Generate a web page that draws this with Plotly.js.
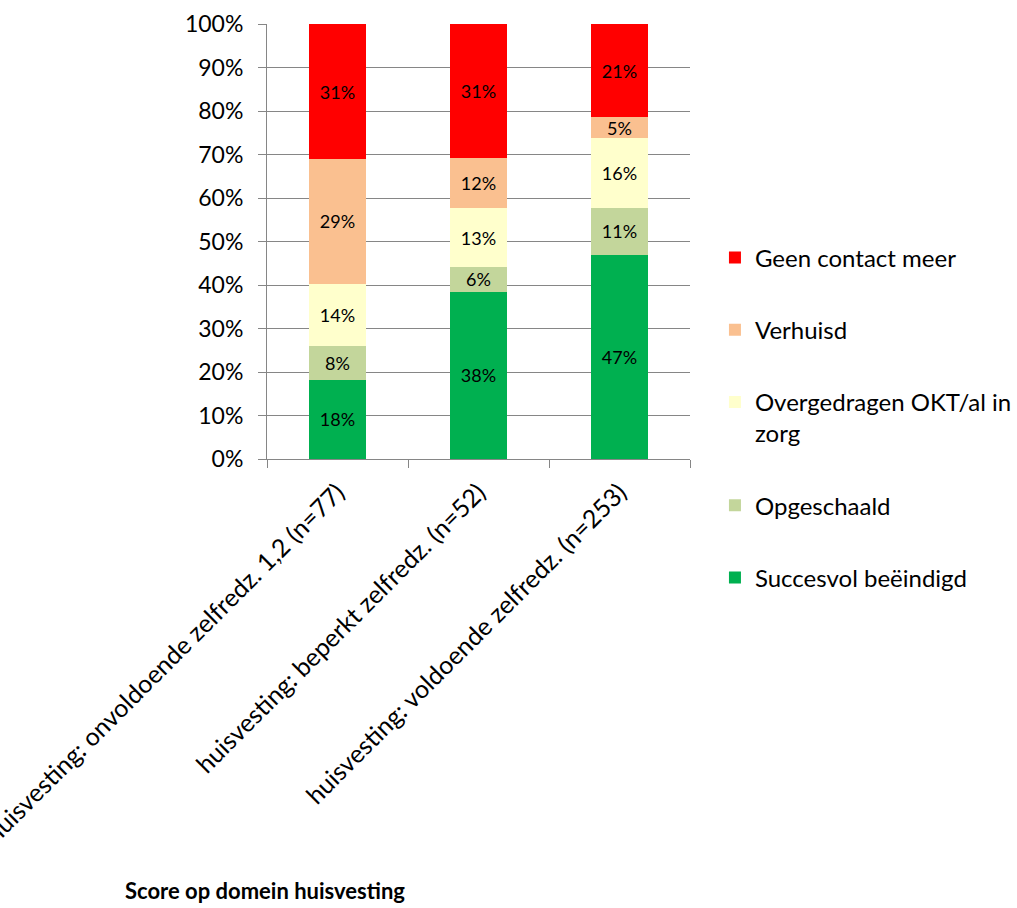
<!DOCTYPE html>
<html>
<head>
<meta charset="utf-8">
<script src="https://cdn.plot.ly/plotly-3.0.1.min.js"></script>
<style>
html,body{margin:0;padding:0;background:#fff;}
#chart{width:1017px;height:908px;}
</style>
</head>
<body>
<div id="chart"></div>
<script>
const categories = [
  'huisvesting: onvoldoende zelfredz. 1,2 (n=77)',
  'huisvesting: beperkt zelfredz. (n=52)',
  'huisvesting: voldoende zelfredz. (n=253)'
];
const succesvol    = [18.2, 38.4, 46.8];
const opgeschaald  = [7.8, 5.8, 11.0];
const overgedragen = [14.3, 13.4, 15.9];
const verhuisd     = [28.6, 11.5, 4.9];
const geenContact  = [31.1, 30.9, 21.4];
const seriesNames = ['Succesvol beëindigd','Opgeschaald','Overgedragen OKT/al in<br>zorg','Verhuisd','Geen contact meer'];
const seriesColors = ['#00B050','#C3D69B','#FFFFCC','#FAC090','#FF0000'];
const seriesValues = [succesvol, opgeschaald, overgedragen, verhuisd, geenContact];

const FONT = 'Lato, "Open Sans", sans-serif';

const traces = seriesValues.map((vals, i) => ({
  type: 'bar',
  name: seriesNames[i],
  x: categories,
  y: vals,
  legendgroup: 'g' + i,
  legendrank: 10 - i,
  marker: {color: seriesColors[i], line: {width: 0}},
  texttemplate: '%{y:.0f}%',
  textposition: 'inside',
  insidetextanchor: 'middle',
  textangle: 0,
  textfont: {family: FONT, size: 18, color: '#000'},
  hoverinfo: 'skip'
}));

const layout = {
  width: 1017,
  height: 908,
  paper_bgcolor: '#fff',
  plot_bgcolor: '#fff',
  barmode: 'stack',
  bargap: 0.6,
  margin: {l: 267, r: 327, t: 24, b: 449, autoexpand: false},
  font: {family: FONT, color: '#000'},
  uniformtext: {mode: 'show', minsize: 18},
  showlegend: true,
  legend: {
    x: 1.059, xanchor: 'left',
    y: 0.514, yanchor: 'top',
    traceorder: 'grouped',
    tracegroupgap: 38,
    font: {family: FONT, size: 24, color: '#000'},
    itemwidth: 30,
    valign: 'top'
  },
  title: {
    text: '<b>Score op domein huisvesting</b>',
    font: {family: FONT, size: 22, color: '#000'},
    x: 265/1017, xanchor: 'center', xref: 'container',
    yref: 'container', y: 0.018, yanchor: 'middle'
  },
  xaxis: {
    type: 'category',
    tickson: 'boundaries',
    ticks: 'outside',
    ticklen: 8,
    tickcolor: '#868686',
    showline: true,
    linecolor: '#868686',
    linewidth: 1,
    showgrid: false,
    tickangle: -45,
    ticklabelstandoff: 8,
    tickfont: {family: FONT, size: 25, color: '#000'}
  },
  yaxis: {
    range: [0, 100],
    dtick: 10,
    ticksuffix: '%',
    ticks: 'outside',
    ticklen: 8,
    tickcolor: '#868686',
    showline: true,
    linecolor: '#868686',
    linewidth: 1,
    showgrid: true,
    gridcolor: '#868686',
    gridwidth: 1,
    zeroline: false,
    ticklabelstandoff: 10,
    tickfont: {family: FONT, size: 23, color: '#000'}
  }
};

Plotly.newPlot('chart', traces, layout, {displayModeBar: false, staticPlot: true});
</script>
</body>
</html>
